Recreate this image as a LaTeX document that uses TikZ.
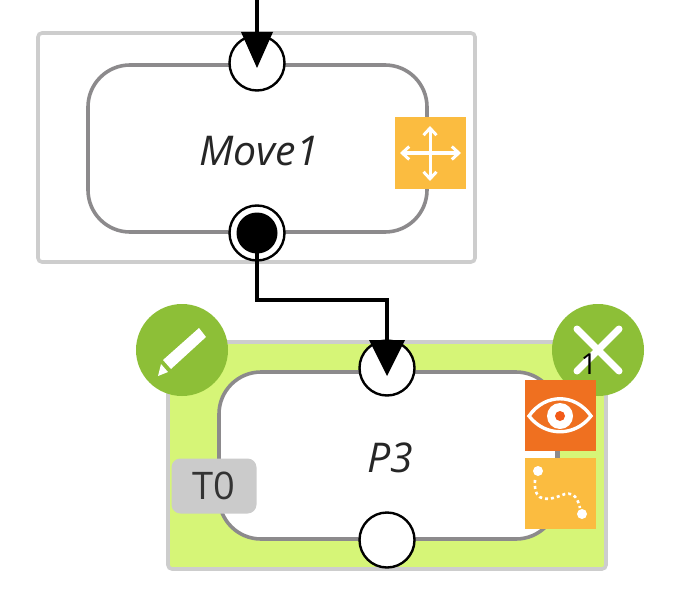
\documentclass[tikz,border=0pt]{standalone}
\usepackage{fontspec}
\setmainfont{Open Sans}
\usetikzlibrary{arrows.meta}
\definecolor{gframe}{HTML}{CDCDCD}
\definecolor{gstroke}{HTML}{8C8A8C}
\definecolor{lime}{HTML}{D6F577}
\definecolor{leaf}{HTML}{8DBF37}
\definecolor{amber}{HTML}{FBBC40}
\definecolor{rust}{HTML}{EF7020}
\definecolor{tagg}{HTML}{CBCBCB}
\tikzset{
  x=1pt,y=-1pt,
  frame/.style={draw=gframe,line width=3.6pt,rounded corners=4pt},
  body/.style={draw=gstroke,fill=white,line width=3.6pt,rounded corners=42pt},
  port/.style={circle,draw=black,fill=white,line width=2.4pt,minimum size=55pt,inner sep=0pt},
  portfilled/.style={circle,fill=black,minimum size=41pt,inner sep=0pt},
  link/.style={draw=black,line width=4.6pt},
  tip/.style={fill=black},
  label/.style={font=\fontsize{41}{46}\selectfont\itshape,text=black!85},
  iconsq/.style={minimum size=71pt,inner sep=0pt},
  roundbtn/.style={circle,fill=leaf,minimum size=92pt,inner sep=0pt},
  whiteline/.style={draw=white,line cap=round},
  barb/.style={{Straight Barb[length=7pt,width=13pt,line width=3pt]}-{Straight Barb[length=7pt,width=13pt,line width=3pt]}},
}
\begin{document}
\begin{tikzpicture}
\useasboundingbox (0,0) rectangle (684,604);
% Move1
\draw[frame] (38,33) rectangle (475,262);
\draw[body] (88,65) rectangle (427,232);
\node[label] (move) at (259,151) {Move1};
\node[port] (inA) at (257,63) {};
\node[port] (outA) at (257,233) {};
\node[portfilled] (outAdot) at (257,233) {};
\node[iconsq,fill=amber] (moveicon) at (430,153) {};
\draw[whiteline,line width=3pt,barb] (430,126) -- (430,181);
\draw[whiteline,line width=3pt,barb] (400,153) -- (461,153);
% P3
\draw[frame,fill=lime] (168,342) rectangle (606,569);
\draw[body] (219,372) rectangle (558,539);
\node[label] (p3) at (390,458) {P3};
\node[port] (inB) at (387,368) {};
\node[port] (outB) at (387,540) {};
\node[minimum width=85pt,minimum height=55pt,fill=tagg,rounded corners=9pt,inner sep=0pt,font=\fontsize{38}{42}\selectfont,text=black!80] (tag) at (214,486) {T0};
% buttons
\node[roundbtn] (edit) at (182,350) {};
\fill[white] (199,328) -- (206,337) -- (171,369) -- (163,360) -- cycle;
\fill[white] (161,364) -- (168,372) -- (158,376) -- cycle;
\node[roundbtn] (del) at (598,350) {};
\draw[whiteline,line width=7pt] (577,329) -- (619,371);
\draw[whiteline,line width=7pt] (619,329) -- (577,371);
\node[font=\fontsize{29}{32}\selectfont,text=black] (count) at (589,364) {1};
% connector stub behind the two icons
\draw[draw=gstroke,line width=3.6pt] (557,450) -- (557,462);
\node[iconsq,fill=rust] (eye) at (560,415) {};
\draw[white,line width=3.4pt] (529,416) .. controls (545,393) and (575,393) .. (591,416) .. controls (575,437) and (545,437) .. (529,416) -- cycle;
\fill[white] (560,416) circle (13pt);
\fill[rust!80!red] (560,416) circle (5pt);
\node[iconsq,fill=amber] (path) at (560,493) {};
\fill[white] (538,471) circle (5pt);
\fill[white] (582,514) circle (5pt);
\draw[white,line width=2.6pt,dash pattern=on 3pt off 3pt] (535,480) .. controls (533,505) and (550,500) .. (565,494) .. controls (575,492) and (578,500) .. (580,508);
% connectors
\coordinate (top) at (257,0);
\draw[link] (top) -- (inA.center);
\fill[tip] (241,32) -- (273,32) -- (257,68) -- cycle;
\draw[link] (outAdot.center) -- (257,300) -- (387,300) -- (inB.center);
\fill[tip] (369,340) -- (405,340) -- (387,376) -- cycle;
\end{tikzpicture}
\end{document}
